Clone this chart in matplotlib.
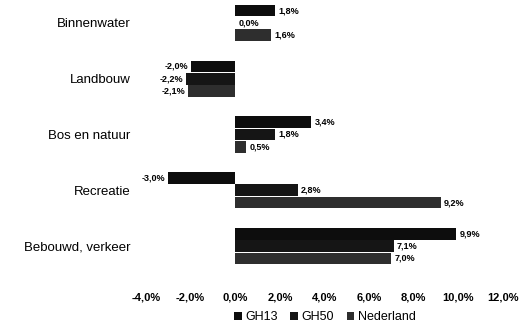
import matplotlib
matplotlib.use("Agg")
import matplotlib.pyplot as plt
import numpy as np

plt.rcParams['font.family'] = ['Liberation Sans', 'DejaVu Sans']

# land use change per category, in percent
categories = ["Binnenwater", "Landbouw", "Bos en natuur", "Recreatie", "Bebouwd, verkeer"]
gh13 = [1.8, -2.0, 3.4, -3.0, 9.9]
gh50 = [0.0, -2.2, 1.8, 2.8, 7.1]
nederland = [1.6, -2.1, 0.5, 9.2, 7.0]

series = [("GH13", gh13, "#0d0d0d"),
          ("GH50", gh50, "#151515"),
          ("Nederland", nederland, "#2e2e2e")]

xticks = [-4, -2, 0, 2, 4, 6, 8, 10, 12]

fig = plt.figure(figsize=(5.31, 3.26), dpi=100)
ax = fig.add_axes([146 / 531, 52 / 326, (503 - 146) / 531, 279 / 326])

y = np.arange(len(categories))
h = 0.22
for k, (name, vals, col) in enumerate(series):
    pos = y + (k - 1) * h
    ax.barh(pos, vals, height=h * 0.95, color=col, label=name)
    for p, v in zip(pos, vals):
        txt = ("%.1f%%" % v).replace(".", ",")
        if v < 0:
            ax.text(v - 0.12, p, txt, ha="right", va="center",
                    fontsize=6.5, fontweight="bold")
        else:
            ax.text(v + 0.15, p, txt, ha="left", va="center",
                    fontsize=6.5, fontweight="bold")

ax.set_xlim(-4, 12)
ax.set_ylim(4.5, -0.5)
ax.set_xticks(xticks)
ax.set_xticklabels([("%.1f%%" % t).replace(".", ",") for t in xticks],
                   fontsize=8, fontweight="bold")
ax.set_yticks(y)
ax.set_yticklabels(categories, fontsize=9.5)
ax.tick_params(length=0)
ax.tick_params(axis="y", pad=11)
ax.tick_params(axis="x", pad=13)
for s in ax.spines.values():
    s.set_visible(False)

fig.legend(loc="center", bbox_to_anchor=(325 / 531, 1 - 317 / 326), ncol=3,
           frameon=False, fontsize=9, handlelength=0.6, handleheight=0.6,
           handletextpad=0.3, columnspacing=1.0)

fig.savefig("out.png", dpi=100)
